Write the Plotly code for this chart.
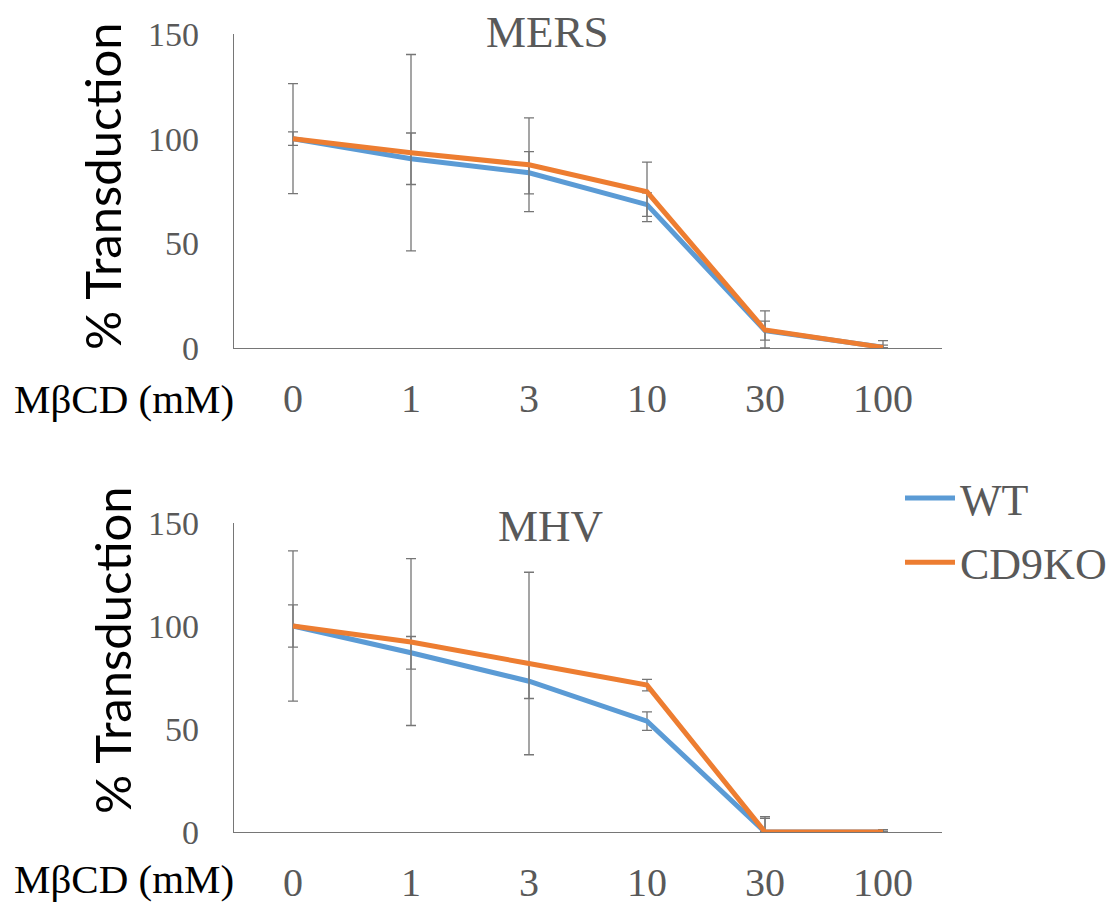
import plotly.graph_objects as go

# MβCD concentrations (mM), shown as categories
concentrations = ["0", "1", "3", "10", "30", "100"]

# MERS pseudovirus transduction (% of untreated)
mers_wt = [100, 90.4, 83.7, 68.5, 8.3, 0.4]
mers_wt_err = [3.2, 12.3, 10.1, 5.6, 4.5, 1.0]
mers_ko = [100, 93.3, 87.5, 74.6, 8.6, 0.3]
mers_ko_err = [26.3, 46.9, 22.4, 14.2, 9.1, 3.2]

# MHV pseudovirus transduction (% of untreated)
mhv_wt = [100, 87.0, 73.2, 53.8, 0, 0]
mhv_wt_err = [10.3, 7.9, 8.4, 4.5, 6.6, 1.0]
mhv_ko = [100, 92.2, 81.8, 71.3, 0, 0]
mhv_ko_err = [36.5, 40.5, 44.3, 2.8, 7.4, 1.2]

W, H = 1115, 907
BLUE = "#5B9BD5"
ORANGE = "#ED7D31"
GREY_TXT = "#595959"
ERR_COL = "#767676"
SERIF = "Liberation Serif, Times New Roman, serif"
SANS = "Lato, Carlito, Calibri, sans-serif"


def px_x(p):
    return p / W


def px_y(p):
    return 1 - p / H


def err_bar(vals, errs):
    # bars stop at the zero line, as the plot area starts at 0
    return dict(
        type="data",
        symmetric=False,
        array=errs,
        arrayminus=[min(e, v) for v, e in zip(vals, errs)],
        color=ERR_COL,
        thickness=1.3,
        width=5,
    )


fig = go.Figure()

panels = [
    ("x", "y", mers_wt, mers_wt_err, mers_ko, mers_ko_err, True),
    ("x2", "y2", mhv_wt, mhv_wt_err, mhv_ko, mhv_ko_err, False),
]
for xa, ya, wt, wt_e, ko, ko_e, first in panels:
    fig.add_trace(go.Scatter(
        x=concentrations, y=wt, mode="lines", name="WT",
        line=dict(color=BLUE, width=5),
        error_y=err_bar(wt, wt_e), xaxis=xa, yaxis=ya,
        showlegend=first, legendgroup="WT",
    ))
    fig.add_trace(go.Scatter(
        x=concentrations, y=ko, mode="lines", name="CD9KO",
        line=dict(color=ORANGE, width=5),
        error_y=err_bar(ko, ko_e), xaxis=xa, yaxis=ya,
        showlegend=first, legendgroup="CD9KO",
    ))

x_dom = [px_x(234), px_x(942)]
axis_common = dict(
    showline=True, linecolor=ERR_COL, linewidth=1.3,
    showgrid=False, zeroline=False, ticks="", automargin=False,
)
xcommon = dict(axis_common, type="category", range=[-0.5, 5.5],
               tickfont=dict(family=SERIF, size=40, color=GREY_TXT),
               ticklabelstandoff=15)
ycommon = dict(axis_common, range=[0, 150], tickvals=[0, 50, 100, 150],
               tickfont=dict(family=SERIF, size=34, color=GREY_TXT),
               ticklabelstandoff=27)

fig.update_layout(
    width=W, height=H, autosize=False,
    margin=dict(l=0, r=0, t=0, b=0, autoexpand=False),
    paper_bgcolor="white", plot_bgcolor="white",
    xaxis=dict(xcommon, domain=x_dom, anchor="y"),
    yaxis=dict(ycommon, domain=[px_y(348), px_y(34)], anchor="x"),
    xaxis2=dict(xcommon, domain=x_dom, anchor="y2"),
    yaxis2=dict(ycommon, domain=[px_y(832), px_y(523)], anchor="x2"),
    legend=dict(
        x=px_x(900), y=px_y(463), xanchor="left", yanchor="top",
        font=dict(family=SERIF, size=44, color=GREY_TXT),
        bgcolor="rgba(0,0,0,0)", itemwidth=50, tracegroupgap=4,
    ),
)

annotations = [
    # panel titles
    dict(text="MERS", x=px_x(547), y=px_y(32),
         font=dict(family=SERIF, size=45, color=GREY_TXT)),
    dict(text="MHV", x=px_x(550), y=px_y(526),
         font=dict(family=SERIF, size=45, color=GREY_TXT)),
    # y-axis titles
    dict(text="% Transduction", x=px_x(102), y=px_y(186), textangle=-90,
         font=dict(family=SANS, size=49, color="black")),
    dict(text="% Transduction", x=px_x(112), y=px_y(650), textangle=-90,
         font=dict(family=SANS, size=49, color="black")),
    # concentration label beside the category ticks
    dict(text="MβCD (mM)", x=px_x(124), y=px_y(399),
         font=dict(family=SERIF, size=41, color="black")),
    dict(text="MβCD (mM)", x=px_x(124), y=px_y(879),
         font=dict(family=SERIF, size=41, color="black")),
]
for a in annotations:
    a.update(xref="paper", yref="paper", xanchor="center", yanchor="middle",
             showarrow=False)
fig.update_layout(annotations=annotations)

fig.write_html("out.html")
